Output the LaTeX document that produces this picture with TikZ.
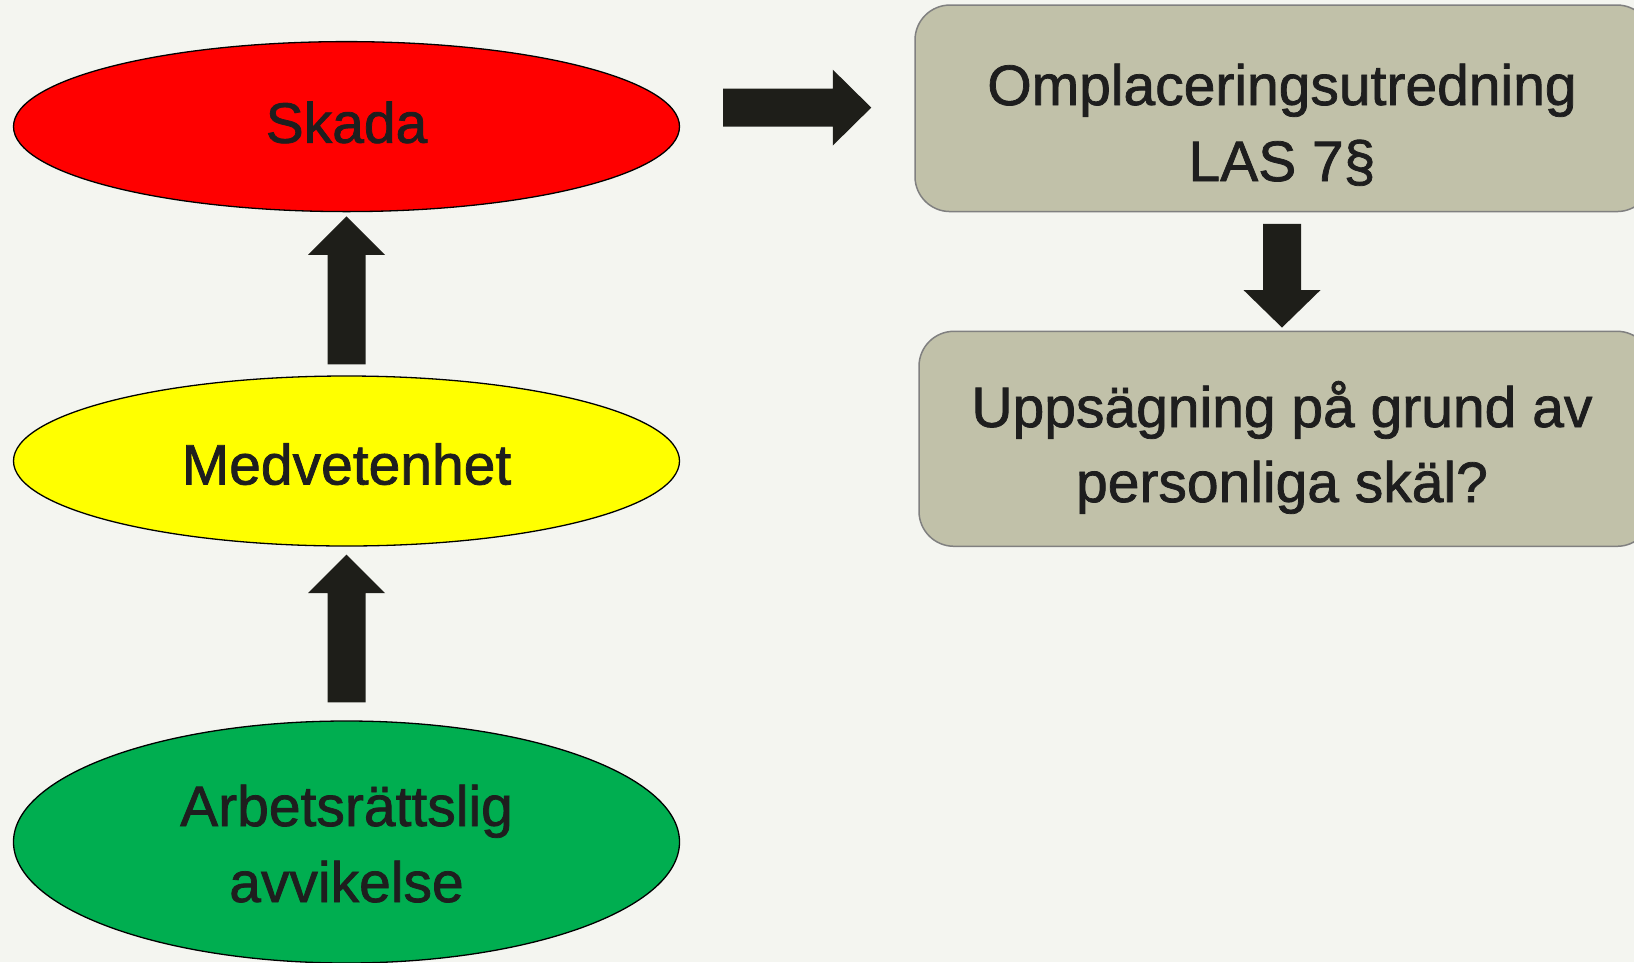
\documentclass[tikz,border=0pt]{standalone}
\usepackage{fontspec}
\setmainfont{Liberation Sans}[FakeBold=1.3]
\usetikzlibrary{shapes.geometric,calc}
\definecolor{bgc}{HTML}{F4F5F0}
\definecolor{skred}{HTML}{FF0000}
\definecolor{medyel}{HTML}{FFFF00}
\definecolor{arbgreen}{HTML}{00AE50}
\definecolor{boxfill}{HTML}{C1C1A9}
\definecolor{boxline}{HTML}{808080}
\definecolor{arrowc}{HTML}{1E1E19}
\definecolor{txtc}{HTML}{1E1E1E}
\tikzset{
  oval/.style={ellipse, draw=black, line width=1.3pt, inner sep=0pt,
    minimum width=666pt, minimum height=170pt},
  roundbox/.style={rectangle, rounded corners=35pt, draw=boxline, fill=boxfill,
    line width=1.5pt, minimum width=737pt, minimum height=206.5pt, inner sep=0pt},
  lbl/.style={anchor=base, font=\fontsize{57pt}{76pt}\selectfont, text=txtc, inner sep=0pt},
  blk/.style={fill=arrowc},
}
\begin{document}
\begin{tikzpicture}[x=1pt,y=-1pt]
\fill[bgc] (0,0) rectangle (1634,962);
\clip (0,0) rectangle (1634,962);

% left ellipses
\node[oval, fill=skred] (sk) at (346.5,126.6) {};
\node[oval, fill=medyel] (med) at (346.5,461) {};
\node[oval, fill=arbgreen, minimum height=242pt] (arb) at (346.5,842) {};

% right boxes
\node[roundbox] (om) at (1283.5,108.3) {};
\node[roundbox, minimum width=733pt, minimum height=215pt] (up) at (1285.5,438.8) {};

% texts
\node[lbl] (skt) at ($(sk.center)+(0,16.2)$) {Skada};
\node[lbl] (medt) at ($(med.center)+(0,23.5)$) {Medvetenhet};
\node[lbl] (arbt1) at ($(arb.center)+(0,-16)$) {Arbetsrättslig};
\node[lbl] (arbt2) at ($(arb.center)+(0,60)$) {avvikelse};
\node[lbl] (omt1) at ($(om.center)+(-1.5,-3.3)$) {Omplaceringsutredning};
\node[lbl] (omt2) at ($(om.center)+(-1.5,72.7)$) {LAS 7§};
\node[lbl] (upt1) at ($(up.center)+(-3.5,-11.8)$) {Uppsägning på grund av};
\node[lbl] (upt2) at ($(up.center)+(-3.5,63.2)$) {personliga skäl?};

% block arrows
\fill[blk] let \p1=($(med.north)+(0,-11)$), \p2=($(sk.south)+(0,4)$) in
  (\x1-19pt,\y1) -- (\x1-19pt,\y2-38.5pt) -- (\x1-38.5pt,\y2-38.5pt) -- (\x1,\y2)
  -- (\x1+38.5pt,\y2-38.5pt) -- (\x1+19pt,\y2-38.5pt) -- (\x1+19pt,\y1) -- cycle;
\fill[blk] let \p1=($(arb.north)+(0,-18)$), \p2=($(med.south)+(0,8)$) in
  (\x1-19pt,\y1) -- (\x1-19pt,\y2-38.5pt) -- (\x1-38.5pt,\y2-38.5pt) -- (\x1,\y2)
  -- (\x1+38.5pt,\y2-38.5pt) -- (\x1+19pt,\y2-38.5pt) -- (\x1+19pt,\y1) -- cycle;
\fill[blk] let \p1=($(sk.east |- om.center)+(43,-0.7)$), \p2=($(om.west)+(-43,-0.7)$) in
  (\x1,\y1+19pt) -- (\x2-38.5pt,\y1+19pt) -- (\x2-38.5pt,\y1+38pt) -- (\x2,\y1)
  -- (\x2-38.5pt,\y1-38pt) -- (\x2-38.5pt,\y1-19pt) -- (\x1,\y1-19pt) -- cycle;
\fill[blk] let \p1=($(om.south)+(-1.5,11.5)$), \p2=($(up.north)+(-3.5,-3)$) in
  (\x1-19pt,\y1) -- (\x1-19pt,\y2+37.5pt) -- (\x1-38.5pt,\y2+37.5pt) -- (\x1,\y2)
  -- (\x1+38.5pt,\y2+37.5pt) -- (\x1+19pt,\y2+37.5pt) -- (\x1+19pt,\y1) -- cycle;
\end{tikzpicture}
\end{document}
